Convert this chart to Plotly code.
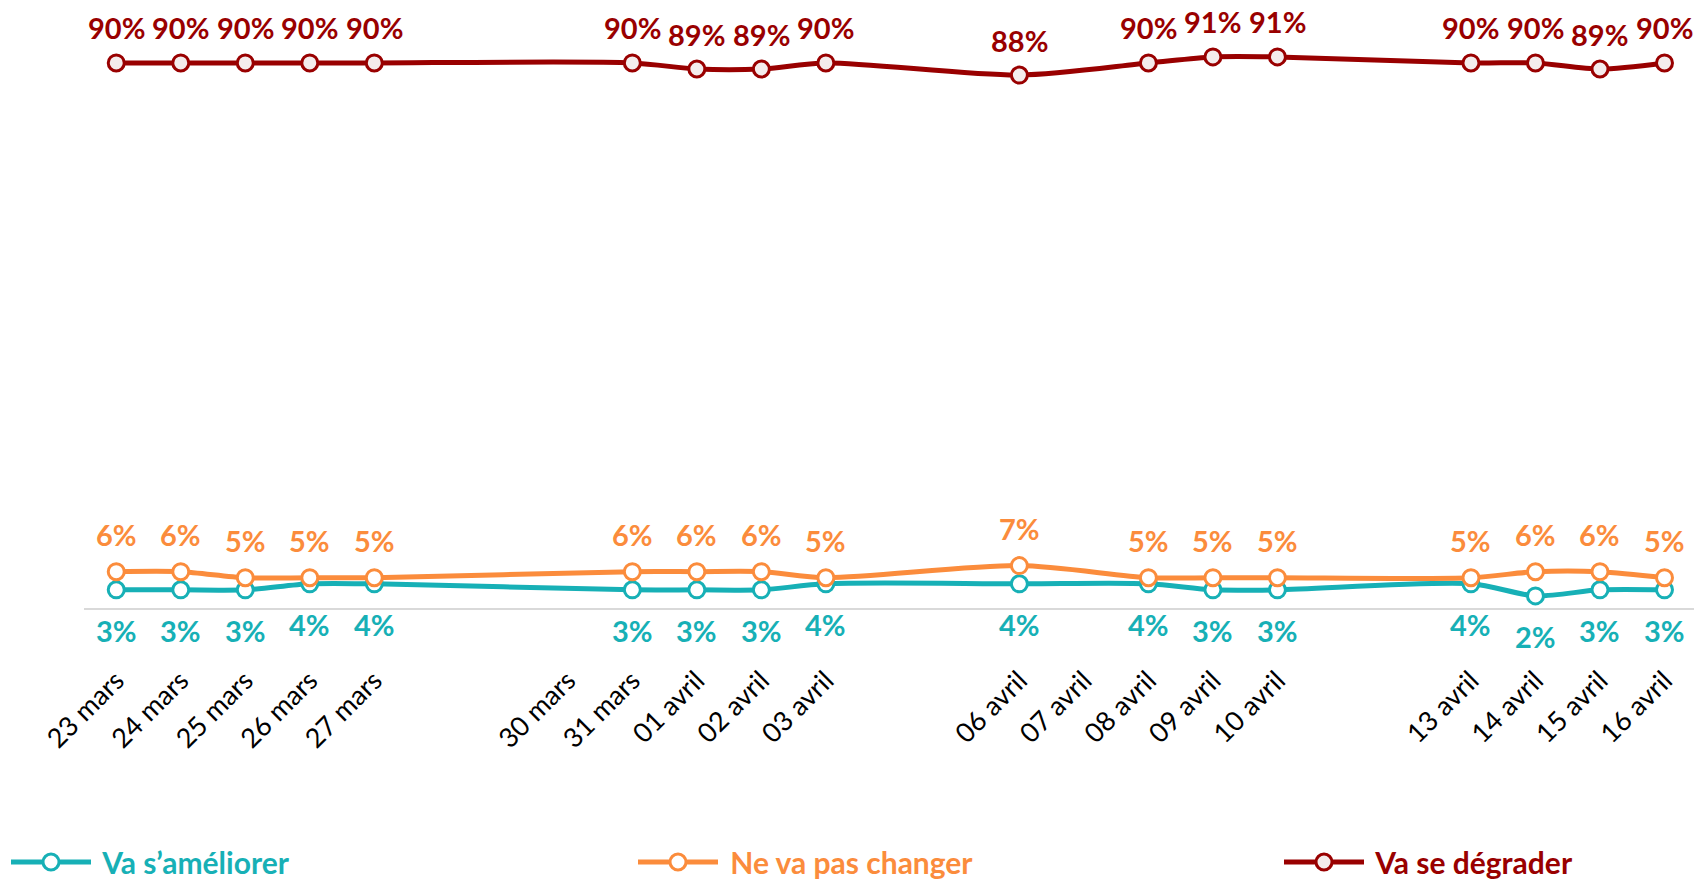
import plotly.graph_objects as go
from datetime import datetime, timedelta

# ---- data ----
dates = ["2020-03-23", "2020-03-24", "2020-03-25", "2020-03-26", "2020-03-27",
         "2020-03-31", "2020-04-01", "2020-04-02", "2020-04-03",
         "2020-04-06", "2020-04-08", "2020-04-09", "2020-04-10",
         "2020-04-13", "2020-04-14", "2020-04-15", "2020-04-16"]
va_ameliorer = [3, 3, 3, 4, 4, 3, 3, 3, 4, 4, 4, 3, 3, 4, 2, 3, 3]
ne_va_pas_changer = [6, 6, 5, 5, 5, 6, 6, 6, 5, 7, 5, 5, 5, 5, 6, 6, 5]
va_se_degrader = [90, 90, 90, 90, 90, 90, 89, 89, 90, 88, 90, 91, 91, 90, 90, 89, 90]

tick_dates = ["2020-03-23", "2020-03-24", "2020-03-25", "2020-03-26", "2020-03-27",
              "2020-03-30", "2020-03-31", "2020-04-01", "2020-04-02", "2020-04-03",
              "2020-04-06", "2020-04-07", "2020-04-08", "2020-04-09", "2020-04-10",
              "2020-04-13", "2020-04-14", "2020-04-15", "2020-04-16"]
tick_labels = ["23 mars", "24 mars", "25 mars", "26 mars", "27 mars",
               "30 mars", "31 mars", "01 avril", "02 avril", "03 avril",
               "06 avril", "07 avril", "08 avril", "09 avril", "10 avril",
               "13 avril", "14 avril", "15 avril", "16 avril"]

series_names = ["Va s\u2019am\u00e9liorer", "Ne va pas changer", "Va se d\u00e9grader"]
series_values = [va_ameliorer, ne_va_pas_changer, va_se_degrader]
colors = ["#17B0B6", "#FB8C3C", "#990000"]
marker_fills = ["#FFFFFF", "#FFFFFF", "#F4ECEC"]
label_shift = [-41, 37, 35]
legend_ids = ["legend", "legend2", "legend3"]

FONT = "Lato"

fig = go.Figure()
for name, vals, col, fill, lid in zip(series_names, series_values, colors, marker_fills, legend_ids):
    fig.add_trace(go.Scatter(
        x=dates, y=vals, name="\u00a0" + name, mode="lines+markers",
        line=dict(color=col, width=5, shape="spline", smoothing=0.8),
        marker=dict(symbol="circle", size=16, color=fill, line=dict(color=col, width=3)),
        legend=lid, cliponaxis=False,
    ))

annotations = []
for vals, col, shift in zip(series_values, colors, label_shift):
    for d, v in zip(dates, vals):
        annotations.append(dict(
            x=d, y=v, xref="x", yref="y", text=f"{v}%", showarrow=False,
            yshift=shift, yanchor="middle", xanchor="center",
            font=dict(family=FONT, size=29, color=col, weight="bold"),
        ))

start = datetime(2020, 3, 23) - timedelta(hours=12)
end = start + timedelta(days=1610 / 64.51)

W, H = 1694, 885
ML, MR, MT, MB = 84, 0, 20, 277
ph = H - MT - MB
px_per_pct = 6.056
ymax = ph / px_per_pct

def lx(px):
    return (px - ML) / (W - ML - MR)

leg_y = (H - MB - 862) / ph
legend_common = dict(orientation="h", yanchor="middle", y=leg_y, xanchor="left",
                     bgcolor="rgba(0,0,0,0)", borderwidth=0, itemwidth=80,
                     tracegroupgap=0)

fig.update_layout(
    width=W, height=H,
    margin=dict(l=ML, r=MR, t=MT, b=MB, autoexpand=False),
    paper_bgcolor="white", plot_bgcolor="white",
    showlegend=True,
    xaxis=dict(
        type="date", range=[start, end],
        tickvals=tick_dates, ticktext=tick_labels, tickangle=-45,
        tickfont=dict(family=FONT, size=27, color="#000000"),
        showgrid=False, zeroline=False, showline=True,
        linecolor="#D9D9D9", linewidth=2, ticks="",
        ticklabelstandoff=44, automargin=False,
    ),
    yaxis=dict(range=[0, ymax], visible=False, fixedrange=True, automargin=False),
    annotations=annotations,
    legend=dict(x=lx(6), font=dict(family=FONT, size=30, color=colors[0], weight="bold"), **legend_common),
    legend2=dict(x=lx(633), font=dict(family=FONT, size=30, color=colors[1], weight="bold"), **legend_common),
    legend3=dict(x=lx(1279), font=dict(family=FONT, size=30, color=colors[2], weight="bold"), **legend_common),
)

fig.write_html("out.html", config={"displayModeBar": False},
               post_script="document.body.style.margin='0';document.body.style.overflow='hidden';")
